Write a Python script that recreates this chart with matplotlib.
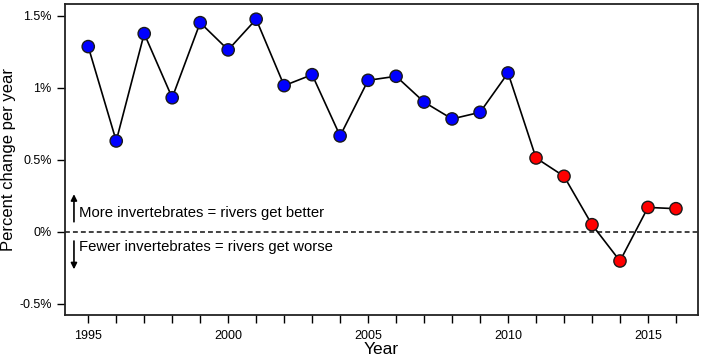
import matplotlib.pyplot as plt
from matplotlib.ticker import FuncFormatter

plt.rcParams["font.family"] = ["Liberation Sans", "DejaVu Sans"]

YEARS = list(range(1995, 2017))
CHANGE = [1.285, 0.63, 1.375, 0.93, 1.451, 1.262, 1.475, 1.014, 1.09, 0.665,
          1.051, 1.079, 0.90, 0.783, 0.829, 1.102,
          0.512, 0.385, 0.049, -0.203, 0.169, 0.160]
BREAK_YEAR = 2010  # blue up to here, red afterwards
Y_TICKS = [-0.5, 0, 0.5, 1, 1.5]
X_LABELED = [1995, 2000, 2005, 2010, 2015]


def pct(v, _):
    return f"{v:g}%"


def main():
    fig = plt.figure(figsize=(7.02, 3.58), dpi=100)
    ax = fig.add_axes([0.0926, 0.120, 0.9014, 0.869])

    ax.axhline(0, color="#333333", lw=1.3, ls=(0, (2.7, 1.7)), zorder=1)
    ax.plot(YEARS, CHANGE, color="black", lw=1.2, zorder=2)

    colors = ["#0000ff" if y <= BREAK_YEAR else "#ff0000" for y in YEARS]
    ax.scatter(YEARS, CHANGE, s=78, c=colors, edgecolors="#1a1a1a",
               linewidths=1.0, zorder=3)

    # annotation arrows and labels
    ax.annotate("", xy=(1994.49, 0.28), xytext=(1994.49, 0.05),
                arrowprops=dict(arrowstyle="-|>", color="black", lw=1.2,
                                mutation_scale=9))
    ax.annotate("", xy=(1994.49, -0.28), xytext=(1994.49, -0.045),
                arrowprops=dict(arrowstyle="-|>", color="black", lw=1.2,
                                mutation_scale=9))
    ax.text(1994.68, 0.13, "More invertebrates = rivers get better",
            fontsize=10.7, va="center", ha="left")
    ax.text(1994.68, -0.107, "Fewer invertebrates = rivers get worse",
            fontsize=10.7, va="center", ha="left")

    ax.set_xlim(1994.17, 2016.78)
    ax.set_ylim(-0.578, 1.581)
    ax.set_xticks(YEARS)
    ax.set_xticklabels([str(y) if y in X_LABELED else "" for y in YEARS])
    ax.set_yticks(Y_TICKS)
    ax.yaxis.set_major_formatter(FuncFormatter(pct))
    ax.tick_params(direction="out", length=6, width=1.0, labelsize=9,
                   colors="black")
    ax.tick_params(axis="x", pad=5)
    for sp in ax.spines.values():
        sp.set_linewidth(1.3)
        sp.set_color("#222222")

    ax.set_xlabel("Year", fontsize=12.5)
    ax.set_ylabel("Percent change per year", fontsize=12)
    ax.xaxis.set_label_coords(0.5, -0.088)
    ax.yaxis.set_label_coords(-0.078, 0.5)

    fig.savefig("out.png", dpi=100)


if __name__ == "__main__":
    main()
